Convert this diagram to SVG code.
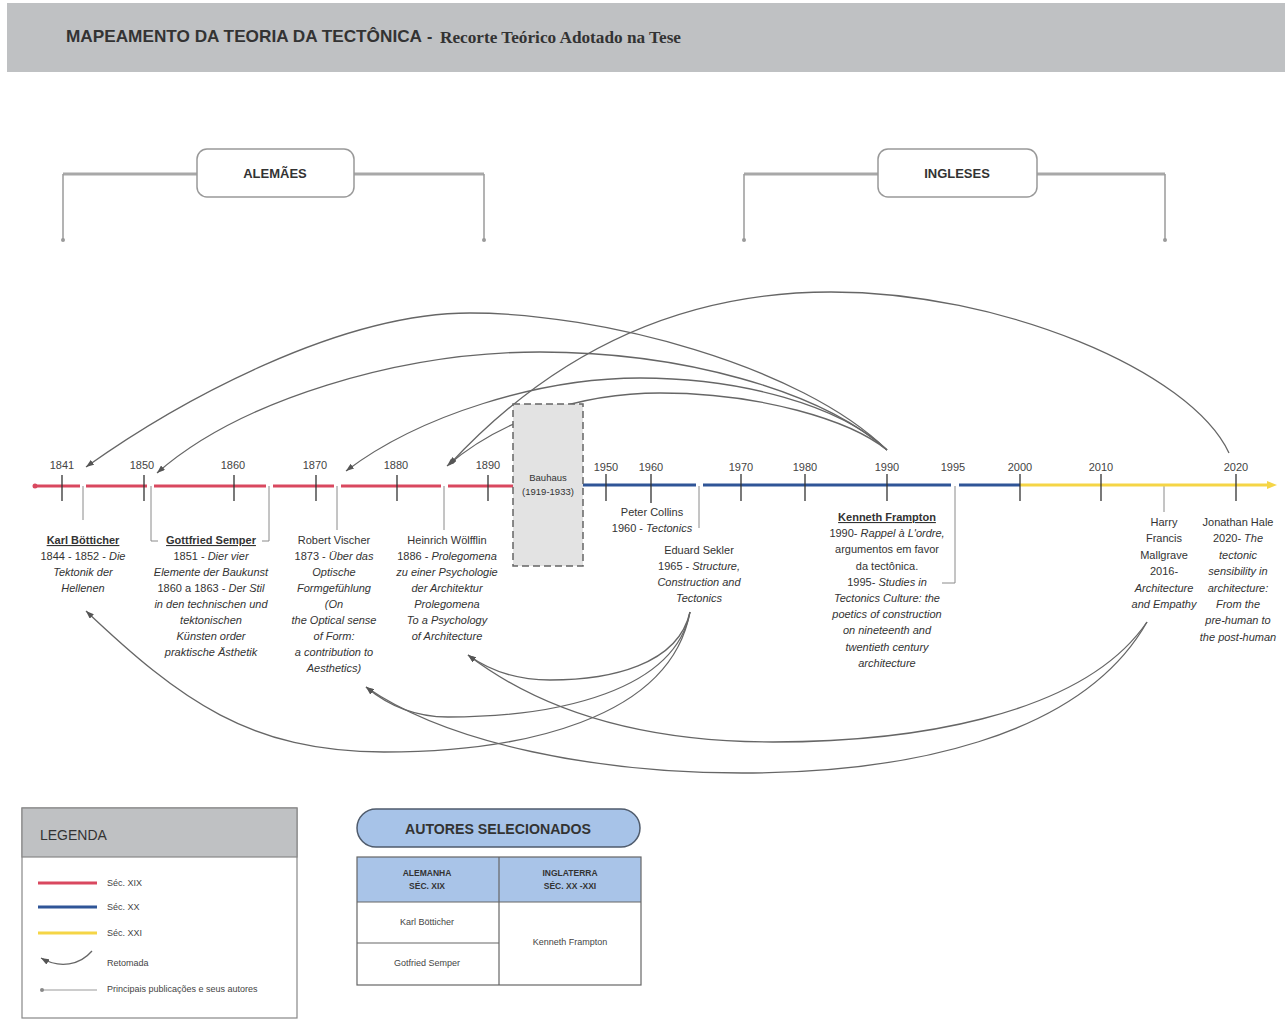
<svg xmlns="http://www.w3.org/2000/svg" width="1285" height="1019" viewBox="0 0 1285 1019">
<style>
text{font-family:"Liberation Sans",Arial,sans-serif;fill:#333}
.t{font-size:11px;text-anchor:middle}
.i{font-style:italic}
.u{font-weight:bold;text-decoration:underline}
.yr{font-size:11px;text-anchor:middle;fill:#444}
.arc{fill:none;stroke:#666;stroke-width:1.3;marker-end:url(#ah)}
.tick{stroke:#333;stroke-width:1.3}
.con{fill:none;stroke:#8a8a8a;stroke-width:1}
.brk{fill:none;stroke:#a8a8a8;stroke-width:3}
.brv{fill:none;stroke:#9a9a9a;stroke-width:1.5}
.red{stroke:#d9485f;stroke-width:3}
.blue{stroke:#2f5597;stroke-width:3}
.yel{stroke:#f5d546;stroke-width:3}
.hdr{font-size:13px;font-weight:bold;text-anchor:middle;fill:#333}
.lg{font-size:9px;fill:#444}
.tb{font-size:9px;text-anchor:middle;fill:#444}
.th{font-size:8.5px;font-weight:bold;text-anchor:middle;fill:#333}
</style>
<defs>
<marker id="ah" markerWidth="8" markerHeight="6" refX="8" refY="3" orient="auto" markerUnits="userSpaceOnUse">
<path d="M0,0 L8,3 L0,6 z" fill="#555"/>
</marker>
</defs>
<rect width="1285" height="1019" fill="#fff"/>

<g id="title">
<rect x="7" y="3" width="1278" height="69" fill="#bfc1c3"/>
<text x="66" y="42" font-size="17" font-weight="bold" textLength="356" lengthAdjust="spacingAndGlyphs" fill="#3a3a3a">MAPEAMENTO DA TEORIA DA TECTÔNICA</text>
<text x="427" y="42" font-size="16" font-weight="bold" fill="#3a3a3a">-</text>
<text x="440" y="43" font-size="16" font-weight="bold" fill="#3a3a3a" style="font-family:'Liberation Serif','Times New Roman',serif" textLength="241" lengthAdjust="spacingAndGlyphs">Recorte Teórico Adotado na Tese</text>
</g>

<g id="connectors">
<path class="brk" d="M63,174 H197 M354,174 H484 M744,174 H878 M1037,174 H1165"/>
<path class="brv" d="M63,174 V240 M484,174 V240 M744,174 V240 M1165,174 V240"/>
<circle cx="63" cy="240" r="2" fill="#9a9a9a"/>
<circle cx="484" cy="240" r="2" fill="#9a9a9a"/>
<circle cx="744" cy="240" r="2" fill="#9a9a9a"/>
<circle cx="1165" cy="240" r="2" fill="#9a9a9a"/>

<path class="con" d="M83,486 V520 M151,486 V541 H158 M269,486 V541 H262 M337,486 V530 M444,486 V530 M699,486 V528 M955,486 V583 H942 M1164,486 V512"/>

<path class="arc" d="M887,450 C800,365 600,313 470,313 C340,313 180,400 86,467"/>
<path class="arc" d="M887,450 C820,390 680,352 540,352 C400,352 240,400 157,473"/>
<path class="arc" d="M887,450 C840,405 740,378 640,378 C540,378 420,415 346,471"/>
<path class="arc" d="M887,450 C850,420 760,393 660,393 C580,393 500,420 447,466"/>
<path class="arc" d="M1229,453 C1190,370 1000,292 831,292 C690,292 560,345 449,465"/>

<path class="arc" d="M690,612 C670,720 520,752 384,752 C250,752 180,700 86,611"/>
<path class="arc" d="M690,612 C675,690 560,717 448,717 C410,717 385,703 366,687"/>
<path class="arc" d="M690,612 C678,665 610,680 550,680 C515,680 490,671 468,655"/>
<path class="arc" d="M1147,622 C1080,720 900,742 773,742 C640,742 540,710 468,655"/>
<path class="arc" d="M1147,622 C1080,740 900,773 742,773 C600,773 450,745 366,687"/>
</g>

<g id="header-alemaes">
<rect x="197" y="149" width="157" height="48" rx="10" fill="#fff" stroke="#999" stroke-width="1.5"/>
<text class="hdr" x="275" y="178">ALEMÃES</text>
</g>
<g id="header-ingleses">
<rect x="878" y="149" width="159" height="48" rx="10" fill="#fff" stroke="#999" stroke-width="1.5"/>
<text class="hdr" x="957" y="178">INGLESES</text>
</g>

<g id="timeline">
<path class="red" d="M35,486 H80 M86,486 H147 M154,486 H266 M273,486 H334 M341,486 H441 M448,486 H513"/>
<circle cx="35" cy="486" r="2.5" fill="#d9485f"/>
<path class="blue" d="M583,485 H696 M703,485 H951 M959,485 H1020"/>
<path class="yel" d="M1020,485 H1268"/>
<polygon points="1267,481 1277,485 1267,489" fill="#f5d546"/>
<path class="tick" d="M62,475 V501 M144,475 V501 M234,475 V501 M316,475 V501 M397,475 V501 M488,475 V501 M606,474 V501 M651,474 V503 M741,474 V501 M805,474 V501 M887,474 V501 M1020,474 V501 M1101,474 V501 M1236,474 V501"/>
<text class="yr" x="62" y="469">1841</text>
<text class="yr" x="142" y="469">1850</text>
<text class="yr" x="233" y="469">1860</text>
<text class="yr" x="315" y="469">1870</text>
<text class="yr" x="396" y="469">1880</text>
<text class="yr" x="488" y="469">1890</text>
<text class="yr" x="606" y="471">1950</text>
<text class="yr" x="651" y="471">1960</text>
<text class="yr" x="741" y="471">1970</text>
<text class="yr" x="805" y="471">1980</text>
<text class="yr" x="887" y="471">1990</text>
<text class="yr" x="953" y="471">1995</text>
<text class="yr" x="1020" y="471">2000</text>
<text class="yr" x="1101" y="471">2010</text>
<text class="yr" x="1236" y="471">2020</text>
</g>

<g id="bauhaus">
<rect x="513" y="404" width="70" height="162" fill="#e3e3e3" stroke="#666" stroke-width="1.5" stroke-dasharray="7,4"/>
<text class="t" x="548" y="481" font-size="9.5" style="font-size:9.5px">Bauhaus</text>
<text class="t" x="548" y="495" style="font-size:9.5px">(1919-1933)</text>
</g>

<g id="karl-botticher">
<text class="t" x="83" y="544"><tspan class="u">Karl Bötticher</tspan><tspan x="83" dy="16">1844 - 1852 - <tspan class="i">Die</tspan></tspan><tspan x="83" dy="16" class="i">Tektonik der</tspan><tspan x="83" dy="16" class="i">Hellenen</tspan></text>
</g>

<g id="gottfried-semper">
<text class="t" x="211" y="544"><tspan class="u">Gottfried Semper</tspan><tspan x="211" dy="16">1851 - <tspan class="i">Dier vier</tspan></tspan><tspan x="211" dy="16" class="i">Elemente der Baukunst</tspan><tspan x="211" dy="16">1860 a 1863 - <tspan class="i">Der Stil</tspan></tspan><tspan x="211" dy="16" class="i">in den technischen und</tspan><tspan x="211" dy="16" class="i">tektonischen</tspan><tspan x="211" dy="16" class="i">Künsten order</tspan><tspan x="211" dy="16" class="i">praktische Ästhetik</tspan></text>
</g>

<g id="robert-vischer">
<text class="t" x="334" y="544">Robert Vischer<tspan x="334" dy="16">1873 - <tspan class="i">Über das</tspan></tspan><tspan x="334" dy="16" class="i">Optische</tspan><tspan x="334" dy="16" class="i">Formgefühlung</tspan><tspan x="334" dy="16" class="i">(On</tspan><tspan x="334" dy="16" class="i">the Optical sense</tspan><tspan x="334" dy="16" class="i">of Form:</tspan><tspan x="334" dy="16" class="i">a contribution to</tspan><tspan x="334" dy="16" class="i">Aesthetics)</tspan></text>
</g>

<g id="heinrich-wolfflin">
<text class="t" x="447" y="544">Heinrich Wölfflin<tspan x="447" dy="16">1886 - <tspan class="i">Prolegomena</tspan></tspan><tspan x="447" dy="16" class="i">zu einer Psychologie</tspan><tspan x="447" dy="16" class="i">der  Architektur</tspan><tspan x="447" dy="16" class="i">Prolegomena</tspan><tspan x="447" dy="16" class="i">To a Psychology</tspan><tspan x="447" dy="16" class="i">of Architecture</tspan></text>
</g>

<g id="peter-collins">
<text class="t" x="652" y="516">Peter Collins<tspan x="652" dy="16">1960 - <tspan class="i">Tectonics</tspan></tspan></text>
</g>

<g id="eduard-sekler">
<text class="t" x="699" y="554">Eduard Sekler<tspan x="699" dy="16">1965 - <tspan class="i">Structure,</tspan></tspan><tspan x="699" dy="16" class="i">Construction and</tspan><tspan x="699" dy="16" class="i">Tectonics</tspan></text>
</g>

<g id="kenneth-frampton">
<text class="t" x="887" y="521"><tspan class="u">Kenneth Frampton</tspan><tspan x="887" dy="16.2">1990- <tspan class="i">Rappel à L'ordre,</tspan></tspan><tspan x="887" dy="16.2">argumentos em favor</tspan><tspan x="887" dy="16.2">da tectônica.</tspan><tspan x="887" dy="16.2">1995- <tspan class="i">Studies in</tspan></tspan><tspan x="887" dy="16.2" class="i">Tectonics Culture: the</tspan><tspan x="887" dy="16.2" class="i">poetics of construction</tspan><tspan x="887" dy="16.2" class="i">on nineteenth and</tspan><tspan x="887" dy="16.2" class="i">twentieth century</tspan><tspan x="887" dy="16.2" class="i">architecture</tspan></text>
</g>

<g id="harry-mallgrave">
<text class="t" x="1164" y="526">Harry<tspan x="1164" dy="16.4">Francis</tspan><tspan x="1164" dy="16.4">Mallgrave</tspan><tspan x="1164" dy="16.4">2016-</tspan><tspan x="1164" dy="16.4" class="i">Architecture</tspan><tspan x="1164" dy="16.4" class="i">and Empathy</tspan></text>
</g>

<g id="jonathan-hale">
<text class="t" x="1238" y="526">Jonathan Hale<tspan x="1238" dy="16.4">2020- <tspan class="i">The</tspan></tspan><tspan x="1238" dy="16.4" class="i">tectonic</tspan><tspan x="1238" dy="16.4" class="i">sensibility in</tspan><tspan x="1238" dy="16.4" class="i">architecture:</tspan><tspan x="1238" dy="16.4" class="i">From the</tspan><tspan x="1238" dy="16.4" class="i">pre-human to</tspan><tspan x="1238" dy="16.4" class="i">the post-human</tspan></text>
</g>

<g id="legend">
<rect x="22" y="808" width="275" height="210" fill="#fff" stroke="#888" stroke-width="1.2"/>
<rect x="22" y="808" width="275" height="49" fill="#bfc1c3" stroke="#888" stroke-width="1.2"/>
<text x="40" y="840" font-size="14" fill="#555">LEGENDA</text>
<line x1="38" y1="883" x2="97" y2="883" class="red"/>
<text class="lg" x="107" y="886">Séc. XIX</text>
<line x1="38" y1="907" x2="97" y2="907" class="blue"/>
<text class="lg" x="107" y="910">Séc. XX</text>
<line x1="38" y1="933" x2="97" y2="933" class="yel"/>
<text class="lg" x="107" y="936">Séc. XXI</text>
<path class="arc" d="M92,951 C80,965 60,969 41,958"/>
<text class="lg" x="107" y="966">Retomada</text>
<line x1="42" y1="990" x2="97" y2="990" stroke="#999" stroke-width="1.2"/>
<circle cx="42" cy="990" r="2" fill="#888"/>
<text class="lg" x="107" y="992">Principais publicações e seus autores</text>
</g>

<g id="autores-selecionados">
<rect x="357" y="809" width="283" height="38" rx="19" fill="#a7c3e8" stroke="#4f5b6c" stroke-width="1.5"/>
<text x="498" y="834" font-size="14" font-weight="bold" text-anchor="middle" fill="#333" textLength="186" lengthAdjust="spacingAndGlyphs">AUTORES SELECIONADOS</text>
<rect x="357" y="857" width="284" height="45" fill="#a9c4e8"/>
<rect x="357" y="857" width="284" height="128" fill="none" stroke="#666" stroke-width="1.2"/>
<line x1="357" y1="902" x2="641" y2="902" stroke="#666" stroke-width="1.2"/>
<line x1="499" y1="857" x2="499" y2="985" stroke="#666" stroke-width="1.2"/>
<line x1="357" y1="943" x2="499" y2="943" stroke="#666" stroke-width="1.2"/>
<text class="th" x="427" y="876">ALEMANHA</text>
<text class="th" x="427" y="889">SÉC. XIX</text>
<text class="th" x="570" y="876">INGLATERRA</text>
<text class="th" x="570" y="889">SÉC. XX -XXI</text>
<text class="tb" x="427" y="925">Karl Bötticher</text>
<text class="tb" x="427" y="966">Gotfried Semper</text>
<text class="tb" x="570" y="945">Kenneth Frampton</text>
</g>
</svg>
